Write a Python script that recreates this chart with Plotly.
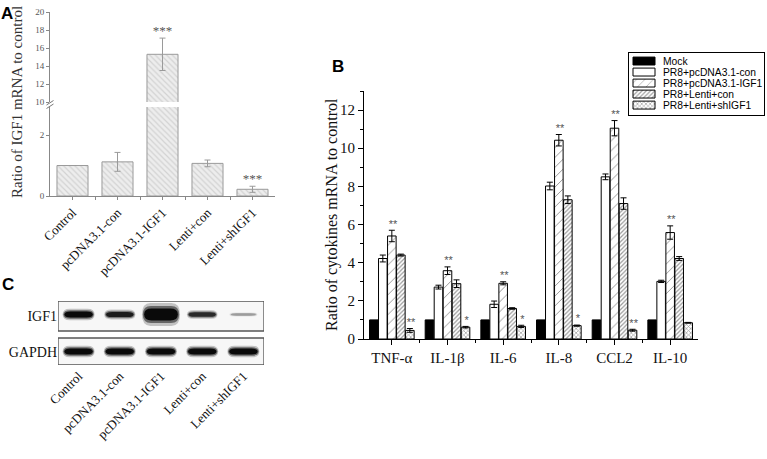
import plotly.graph_objects as go

W, H = 767, 459
def px(x): return x / W
def py(y): return 1 - y / H

SERIF = "Liberation Serif"
SANS = "Liberation Sans"

# ---------------- Panel A data ----------------
a_groups = ["Control", "pcDNA3.1-con", "pcDNA3.1-IGF1", "Lenti+con", "Lenti+shIGF1"]
a_values = [1.0, 1.12, 15.3, 1.07, 0.22]
a_errors = [0.0, 0.31, 1.8, 0.11, 0.10]
a_sig = ["", "", "***", "", "***"]

# ---------------- Panel B data ----------------
b_cytokines = ["TNF-α", "IL-1β", "IL-6", "IL-8", "CCL2", "IL-10"]
b_series = ["Mock", "PR8+pcDNA3.1-con", "PR8+pcDNA3.1-IGF1", "PR8+Lenti+con", "PR8+Lenti+shIGF1"]
b_mock = [1.0, 1.0, 1.0, 1.0, 1.0, 1.0]
b_mock_err = [0, 0, 0, 0, 0, 0]
b_pc_con = [4.22, 2.72, 1.82, 8.02, 8.50, 3.02]
b_pc_con_err = [0.18, 0.10, 0.17, 0.20, 0.15, 0.06]
b_pc_igf1 = [5.40, 3.58, 2.92, 10.42, 11.05, 5.58]
b_pc_igf1_err = [0.30, 0.20, 0.08, 0.30, 0.40, 0.35]
b_lenti_con = [4.40, 2.90, 1.60, 7.30, 7.10, 4.22]
b_lenti_con_err = [0.05, 0.20, 0.04, 0.20, 0.30, 0.10]
b_lenti_sh = [0.45, 0.62, 0.66, 0.70, 0.46, 0.85]
b_lenti_sh_err = [0.10, 0.04, 0.06, 0.03, 0.05, 0.02]
b_sig_igf1 = ["**", "**", "**", "**", "**", "**"]
b_sig_sh = ["**", "*", "*", "*", "**", ""]

# ---------------- Panel C data ----------------
c_lanes = a_groups
c_proteins = ["IGF1", "GAPDH"]
c_igf1_band = [1.0, 0.8, 2.4, 0.7, 0.12]
c_gapdh_band = [1.0, 1.0, 1.0, 1.0, 1.0]

fig = go.Figure()

# ===== Panel A (broken axis: lower 0-2.92, upper 10-20) =====
A_LOW = (0, 2.92)
A_HIGH = (10, 20)
a_x = list(range(len(a_groups)))
a_pattern = dict(shape="\\", fgcolor="#b8b8b8", bgcolor="#ededed", size=4, solidity=0.3)
a_tops = [v + e for v, e in zip(a_values, a_errors)]
for yax, (lo, hi) in [("y", A_LOW), ("y2", A_HIGH)]:
    fig.add_trace(go.Bar(
        x=a_x, y=a_values, xaxis="x", yaxis=yax, width=0.69,
        marker=dict(color="#ededed", pattern=a_pattern, line=dict(color="#9a9a9a", width=1)),
        error_y=dict(type="data", array=a_errors, color="#9a9a9a", thickness=1, width=3),
        showlegend=False))
    keep = [lo <= t <= hi for t in a_tops]
    fig.add_trace(go.Scatter(
        x=[x for x, k in zip(a_x, keep) if k], y=[t for t, k in zip(a_tops, keep) if k],
        xaxis="x", yaxis=yax, mode="text", text=[s for s, k in zip(a_sig, keep) if k],
        textposition="top center",
        textfont=dict(family=SERIF, size=13, color="#555"), showlegend=False))

# ===== Panel B =====
b_x = list(range(1, len(b_cytokines) + 1))
b_vals = [b_mock, b_pc_con, b_pc_igf1, b_lenti_con, b_lenti_sh]
b_errs = [b_mock_err, b_pc_con_err, b_pc_igf1_err, b_lenti_con_err, b_lenti_sh_err]
b_styles = [
    dict(color="#000000", pattern=dict(shape="")),
    dict(color="#ffffff", pattern=dict(shape="")),
    dict(color="#ffffff", pattern=dict(shape="/", fgcolor="#111", bgcolor="#ffffff", size=7, solidity=0.12)),
    dict(color="#ffffff", pattern=dict(shape="/", fgcolor="#333", bgcolor="#ffffff", size=3, solidity=0.4)),
    dict(color="#ffffff", pattern=dict(shape="x", fgcolor="#333", bgcolor="#ffffff", size=3, solidity=0.4)),
]
for name, vals, errs, st in zip(b_series, b_vals, b_errs, b_styles):
    fig.add_trace(go.Bar(
        x=b_x, y=vals, name=name, xaxis="x3", yaxis="y3",
        marker=dict(color=st["color"], pattern=st["pattern"], line=dict(color="#000", width=1)),
        error_y=dict(type="data", array=errs, color="#000", thickness=1, width=3,
                     visible=any(e > 0 for e in errs)),
        showlegend=False))

BARGAP, BARGROUPGAP = 0.19, 0.05
slot = (1 - BARGAP) / len(b_series)
def b_offset(i):
    return -(1 - BARGAP) / 2 + slot * (i + 0.5)

for idx, sig, vals, errs in [(2, b_sig_igf1, b_pc_igf1, b_pc_igf1_err),
                             (4, b_sig_sh, b_lenti_sh, b_lenti_sh_err)]:
    fig.add_trace(go.Scatter(
        x=[c + b_offset(idx) + 0.02 for c in b_x], y=[v + e for v, e in zip(vals, errs)],
        xaxis="x3", yaxis="y3", mode="text", text=sig, textposition="top center",
        textfont=dict(family=SANS, size=11, color="#555"), showlegend=False))

# ===== Custom legend for B (bars on a small axis) =====
leg_y = list(range(len(b_series)))
fig.add_trace(go.Bar(
    x=[22] * len(b_series), y=leg_y, base=4, orientation="h", width=0.72,
    xaxis="x5", yaxis="y5",
    marker=dict(
        color=[s["color"] for s in b_styles],
        pattern=dict(
            shape=[s["pattern"].get("shape", "") for s in b_styles],
            fgcolor=[s["pattern"].get("fgcolor", "#000") for s in b_styles],
            bgcolor=[s["pattern"].get("bgcolor", s["color"]) for s in b_styles],
            size=[min(s["pattern"].get("size", 4), 6) for s in b_styles],
            solidity=[s["pattern"].get("solidity", 0.3) for s in b_styles]),
        line=dict(color="#000", width=1)),
    hoverinfo="skip", showlegend=False))

annotations = []
for i, name in enumerate(b_series):
    annotations.append(dict(x=32, y=i, xref="x5", yref="y5", text=name, showarrow=False,
                            xanchor="left", yanchor="middle",
                            font=dict(family=SANS, size=10.3, color="#000")))

# ===== Panel C (western blot) =====
shapes = []
rows = [(0, 30, 13.5, c_igf1_band), (37, 64, 50.5, c_gapdh_band)]
def band_path(xc, yc, hw, hh):
    l, r = xc - hw, xc + hw
    rx = hw * 0.45
    return (f"M {l + rx},{yc - hh} L {r - rx},{yc - hh} Q {r},{yc - hh} {r},{yc} "
            f"Q {r},{yc + hh} {r - rx},{yc + hh} L {l + rx},{yc + hh} "
            f"Q {l},{yc + hh} {l},{yc} Q {l},{yc - hh} {l + rx},{yc - hh} Z")

for y0, y1, yc, bands in rows:
    shapes.append(dict(type="rect", xref="x4", yref="y4", x0=-0.5, x1=4.5, y0=y0, y1=y1,
                       line=dict(color="#555", width=1.3), fillcolor="#f7f7f7", layer="below"))
    for lane, s in enumerate(bands):
        hh = (2.5 + 6.0 * s) / 2
        hw = min(0.37 + 0.05 * (s - 1), 0.47)
        op = min(1.0, 0.15 + 0.85 * s)
        for fw, fh, fo in [(1.05, 1.35, 0.22), (1.0, 1.0, 0.5), (0.93, 0.7, 1.0)]:
            shapes.append(dict(type="path", xref="x4", yref="y4",
                               path=band_path(lane, yc, hw * fw, hh * fh),
                               fillcolor="#0a0a0a", opacity=op * fo, line=dict(width=0)))

# break marks on panel A y-axis
for dy in [0, 3.5]:
    shapes.append(dict(type="line", xref="paper", yref="paper",
                       x0=px(46.5), y0=py(105 + dy), x1=px(53.5), y1=py(100.5 + dy),
                       line=dict(color="#777", width=1)))

# titles & panel letters
center = dict(xref="paper", yref="paper", xanchor="center", yanchor="middle", showarrow=False)
annotations += [
    dict(**center, x=px(17), y=py(102), text="Ratio of IGF1 mRNA to control", textangle=-90,
         font=dict(family=SERIF, size=15, color="#333")),
    dict(**center, x=px(332), y=py(215), text="Ratio of cytokines mRNA to control", textangle=-90,
         font=dict(family=SERIF, size=16, color="#111")),
    dict(**center, x=px(7), y=py(13), text="<b>A</b>", font=dict(family=SANS, size=17, color="#000")),
    dict(**center, x=px(338), y=py(67), text="<b>B</b>", font=dict(family=SANS, size=17, color="#000")),
    dict(**center, x=px(8), y=py(284), text="<b>C</b>", font=dict(family=SANS, size=17, color="#000")),
]

grey_axis = dict(showline=True, linecolor="#888", linewidth=1, showgrid=False, zeroline=False,
                 ticks="outside", tickcolor="#888", ticklen=3, automargin=False)
black_axis = dict(showline=True, linecolor="#000", linewidth=1, showgrid=False, zeroline=False,
                  ticks="outside", tickcolor="#000", ticklen=5, automargin=False)

fig.update_layout(
    width=W, height=H, margin=dict(l=0, r=0, t=0, b=0, pad=0, autoexpand=False),
    paper_bgcolor="white", plot_bgcolor="rgba(0,0,0,0)",
    barmode="group", bargap=BARGAP, bargroupgap=BARGROUPGAP,
    showlegend=False,
    xaxis=dict(**grey_axis, domain=[px(50), px(275)], range=[-0.5, 4.5], anchor="y",
               tickmode="array", tickvals=a_x, ticktext=a_groups, tickangle=-45,
               tickfont=dict(family=SERIF, size=13, color="#111"),
               minor=dict(tickmode="array", tickvals=[0.5, 1.5, 2.5, 3.5], ticks="outside",
                          ticklen=3, tickcolor="#888")),
    yaxis=dict(**grey_axis, domain=[py(196), py(107)], range=list(A_LOW), anchor="x",
               tickmode="array", tickvals=[0, 2], tickfont=dict(family=SERIF, size=9, color="#555")),
    yaxis2=dict(**grey_axis, domain=[py(102), py(12)], range=list(A_HIGH), anchor="x",
                tickmode="linear", tick0=10, dtick=2, tickfont=dict(family=SERIF, size=9, color="#555")),
    xaxis3=dict(**black_axis, domain=[px(364), px(698)], range=[0.5, 6.5], anchor="y3",
                tickmode="array", tickvals=b_x, ticktext=b_cytokines,
                tickfont=dict(family=SERIF, size=15, color="#111"),
                minor=dict(tickmode="array", tickvals=[1.5, 2.5, 3.5, 4.5, 5.5], ticks="outside",
                           ticklen=3, tickcolor="#000")),
    yaxis3=dict(**black_axis, domain=[py(339), py(91)], range=[0, 13], anchor="x3",
                tickmode="linear", tick0=0, dtick=2, tickfont=dict(family=SERIF, size=15, color="#111"),
                minor=dict(dtick=1, ticks="outside", ticklen=3, tickcolor="#000")),
    xaxis4=dict(domain=[px(58), px(264)], range=[-0.5, 4.5], anchor="y4", showline=False,
                showgrid=False, zeroline=False, ticks="", tickmode="array", tickvals=a_x,
                ticktext=c_lanes, tickangle=-45, automargin=False,
                tickfont=dict(family=SERIF, size=13, color="#111")),
    yaxis4=dict(domain=[py(365), py(301)], range=[64, 0], anchor="x4", showline=False,
                showgrid=False, zeroline=False, ticks="", tickmode="array", tickvals=[15, 51],
                ticktext=c_proteins, automargin=False,
                tickfont=dict(family=SERIF, size=14, color="#111")),
    xaxis5=dict(domain=[px(629), px(764)], range=[0, 135], anchor="y5", showline=True, mirror=True,
                linecolor="#000", linewidth=1, showgrid=False, zeroline=False, showticklabels=False,
                ticks="", automargin=False, fixedrange=True),
    yaxis5=dict(domain=[py(115), py(53)], range=[4.9, -0.73], anchor="x5", showline=True, mirror=True,
                linecolor="#000", linewidth=1, showgrid=False, zeroline=False, showticklabels=False,
                ticks="", automargin=False, fixedrange=True),
    shapes=shapes, annotations=annotations,
)

fig.write_html("out.html", config={"displayModeBar": False},
               post_script="document.body.style.margin='0px';document.body.style.overflow='hidden';")
